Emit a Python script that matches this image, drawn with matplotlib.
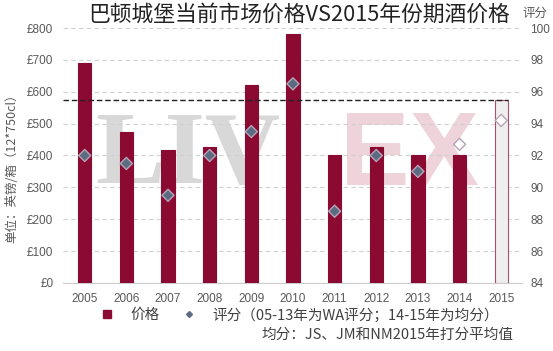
import numpy as np
import matplotlib.pyplot as plt

plt.rcParams['font.family'] = ['Noto Sans CJK SC', 'DejaVu Sans']

years = ['2005', '2006', '2007', '2008', '2009', '2010', '2011', '2012', '2013', '2014', '2015']
prices = [690, 473, 418, 428, 620, 780, 400, 428, 403, 400, 575]
scores = [92.0, 91.5, 89.5, 92.0, 93.5, 96.5, 88.5, 92.0, 91.0, 92.7, 94.2]
en_primeur_price = 575
price_ticks = [0, 100, 200, 300, 400, 500, 600, 700, 800]
score_ticks = [84, 86, 88, 90, 92, 94, 96, 98, 100]

bar_color = '#8a0a32'
txt_color = '#595959'
tick_font = 'Liberation Sans'

fig = plt.figure(figsize=(5.53, 3.51), dpi=100)
ax = fig.add_axes([0.114, 0.194, 0.83, 0.726])
x = np.arange(len(years))

# bars: past vintages solid, 2015 (en primeur) hollow
colors = [bar_color] * (len(years) - 1) + ['#eeeeee']
edges = [bar_color] * (len(years) - 1) + ['#a8506c']
ax.bar(x, prices, width=0.32, color=colors, edgecolor=edges, linewidth=0.8, zorder=3)

ax.set_ylim(0, 800)
ax.set_xlim(-0.52, 10.5)
ax.set_yticks(price_ticks)
ax.set_yticklabels(['£%d' % v for v in price_ticks], family=tick_font)
ax.set_xticks(x)
ax.set_xticklabels(years, family=tick_font)
ax.grid(axis='y', color='#d0d0d0', linestyle=(0, (4, 3)), linewidth=0.8, zorder=0)
ax.hlines(en_primeur_price, -0.52, 10.16, color='#222222', linestyle=(0, (4, 2)), linewidth=1.0, zorder=4)
for s in ['top', 'right', 'left']:
    ax.spines[s].set_visible(False)
ax.spines['bottom'].set_color('#cccccc')
ax.tick_params(length=0, colors=txt_color, labelsize=8.5)
ax.tick_params(axis='x', pad=7)
ax.tick_params(axis='y', pad=7)
ax.set_ylabel('单位：英镑/箱（12*750cl）', color=txt_color, fontsize=9)
ax.yaxis.set_label_coords(-0.098, 0.46)

# LIVEX watermark
ax.text(2.47, 392, 'LIV', fontsize=75, color='#d8d8d8', ha='center', va='center',
        family='Liberation Serif', fontweight='bold', zorder=1)
ax.text(7.8, 392, 'EX', fontsize=75, color='#eed3da', ha='center', va='center',
        family='Liberation Sans', fontweight='bold', zorder=1)

ax2 = ax.twinx()
ax2.set_ylim(84, 100)
ax2.set_yticks(score_ticks)
ax2.set_yticklabels([str(v) for v in score_ticks], family=tick_font)
for s in ['top', 'right', 'left', 'bottom']:
    ax2.spines[s].set_visible(False)
ax2.tick_params(length=0, colors=txt_color, labelsize=8.5, pad=6)
fills = ['#5b6b82'] * 9 + ['white', 'white']
ax2.scatter(x, scores, marker='D', s=38, c=fills, edgecolors='#b7a3b8', linewidths=1.0, zorder=5)
fig.text(0.967, 0.962, '评分', color=txt_color, fontsize=9, ha='center', va='center')

fig.text(0.54, 0.958, '巴顿城堡当前市场价格VS2015年份期酒价格', fontsize=15.7, ha='center', va='center',
         color='#222222', fontweight='light')

# legend
h1 = plt.Line2D([], [], marker='s', color=bar_color, linestyle='none', markersize=6)
h2 = plt.Line2D([], [], marker='D', color='#5b6b82', linestyle='none', markersize=3)
fig.legend([h1, h2], ['价格', '评分（05-13年为WA评分；14-15年为均分）'],
           loc='center', bbox_to_anchor=(0.535, 0.103), ncol=2, frameon=False,
           fontsize=10.5, labelcolor='#404040', handletextpad=0.6, columnspacing=1.0)
fig.text(0.70, 0.046, '均分：JS、JM和NM2015年打分平均值', fontsize=10.5, style='italic',
         ha='center', va='center', color='#404040')

fig.savefig('out.png', dpi=100)
